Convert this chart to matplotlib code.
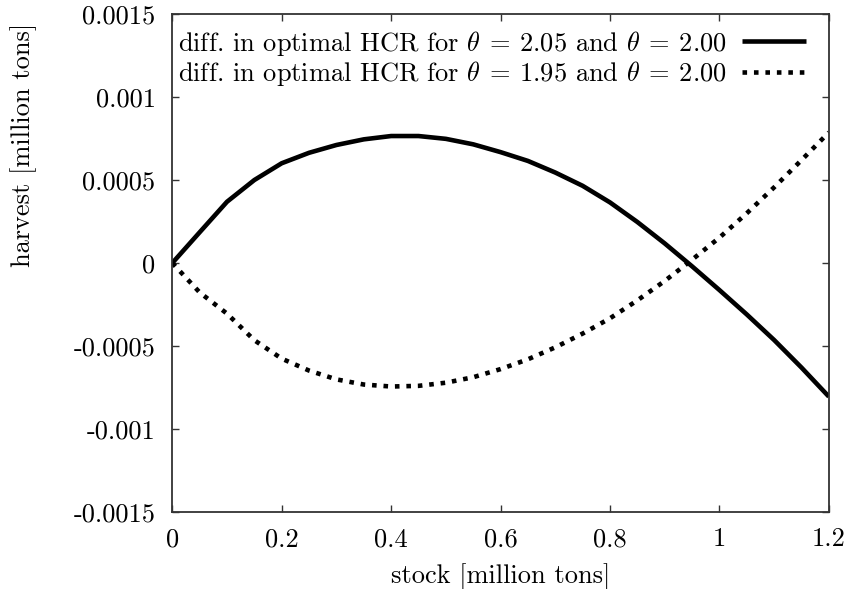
import numpy as np
import matplotlib
matplotlib.use('Agg')
import matplotlib.pyplot as plt

# stock [million tons]
stock = [0.0, 0.05, 0.1, 0.15, 0.2, 0.25, 0.3, 0.35, 0.4, 0.45, 0.5, 0.55,
         0.6, 0.65, 0.7, 0.75, 0.8, 0.85, 0.9, 0.95, 1.0, 1.05, 1.1, 1.15, 1.2]

# diff. in optimal HCR, theta = 2.05 vs 2.00
diff_205 = [0.0, 0.000185, 0.000369, 0.0005, 0.000601, 0.000664, 0.000711,
            0.000745, 0.000765, 0.000765, 0.000748, 0.000715, 0.000668,
            0.000615, 0.000545, 0.000465, 0.000365, 0.000247, 0.000118,
            -0.00002, -0.000163, -0.00031, -0.000464, -0.00063, -0.000805]

# diff. in optimal HCR, theta = 1.95 vs 2.00
diff_195 = [0.0, -0.000177, -0.000305, -0.000465, -0.000576, -0.000648,
            -0.000701, -0.000732, -0.000744, -0.00074, -0.000721, -0.000688,
            -0.000639, -0.00058, -0.000508, -0.000425, -0.000333, -0.000225,
            -0.000108, 0.00002, 0.000153, 0.0003, 0.000456, 0.00062, 0.000787]

xticks = [0, 0.2, 0.4, 0.6, 0.8, 1, 1.2]
xlabels = ['0', '0.2', '0.4', '0.6', '0.8', '1', '1.2']
yticks = [-0.0015, -0.001, -0.0005, 0, 0.0005, 0.001, 0.0015]
ylabels = ['-0.0015', '-0.001', '-0.0005', '0', '0.0005', '0.001', '0.0015']

plt.rcParams['font.family'] = ['cmr10', 'DejaVu Serif']
plt.rcParams['mathtext.fontset'] = 'cm'
plt.rcParams['axes.unicode_minus'] = False

fs = 19
fig = plt.figure(figsize=(8.47, 5.89), dpi=100)
ax = fig.add_axes([0.2034, 0.1307, 0.7752, 0.8455])

ax.plot(stock, diff_205, color='black', lw=3.3, solid_capstyle='butt',
        label=r'diff. in optimal HCR for $\theta\:=\:2.05$ and $\theta\:=\:2.00$')
ax.plot(stock, diff_195, color='black', lw=3.3, linestyle=(0, (1, 1.5)),
        dash_capstyle='butt',
        label=r'diff. in optimal HCR for $\theta\:=\:1.95$ and $\theta\:=\:2.00$')

ax.set_xlim(0, 1.2)
ax.set_ylim(-0.0015, 0.0015)
ax.set_xticks(xticks)
ax.set_xticklabels(xlabels, fontsize=fs)
ax.set_yticks(yticks)
ax.set_yticklabels(ylabels, fontsize=fs)
ax.tick_params(direction='in', length=5, width=1, top=True, right=True,
               color='#333333')
ax.tick_params(axis='x', pad=11)
ax.tick_params(axis='y', pad=12)
for s in ax.spines.values():
    s.set_linewidth(1.3)
    s.set_color('#333333')

ax.set_xlabel('stock [million tons]', fontsize=fs, labelpad=9)
ax.set_ylabel('harvest [million tons]', fontsize=fs)
ax.yaxis.set_label_coords(-0.206, 0.737)

ax.legend(loc='upper right', bbox_to_anchor=(0.987, 1.0), frameon=False,
          markerfirst=False, fontsize=fs, handlelength=2.4,
          handletextpad=0.6, labelspacing=0.05, borderaxespad=0.15)

fig.savefig('out.png', dpi=100)
